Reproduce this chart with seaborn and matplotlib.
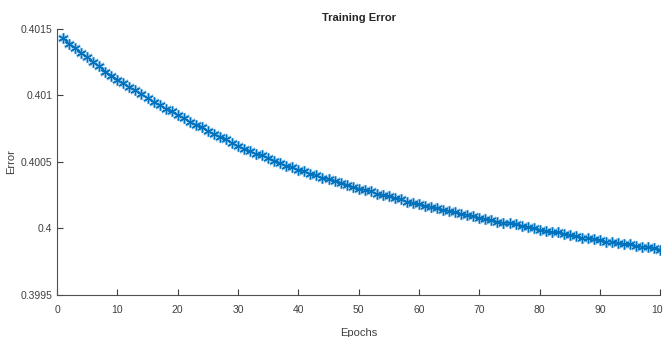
"""
Training error curve over epochs
"""
import matplotlib
matplotlib.use('Agg')
import matplotlib.pyplot as plt
import pandas as pd
import seaborn as sns


epochs = list(range(1, 101))
error = [
    0.40143, 0.40139, 0.40136, 0.40132, 0.40129, 0.40125, 0.40122, 0.40118, 0.40115, 0.40112,
    0.40109, 0.40106, 0.40104, 0.40101, 0.40098, 0.40095, 0.40093, 0.40090, 0.40088, 0.40085,
    0.40083, 0.40080, 0.40078, 0.40076, 0.40073, 0.40071, 0.40069, 0.40067, 0.40064, 0.40062,
    0.40060, 0.40058, 0.40056, 0.40055, 0.40053, 0.40051, 0.40049, 0.40047, 0.40046, 0.40044,
    0.40043, 0.40041, 0.40040, 0.40038, 0.40037, 0.40036, 0.40034, 0.40033, 0.40031, 0.40030,
    0.40029, 0.40028, 0.40026, 0.40025, 0.40024, 0.40023, 0.40022, 0.40020, 0.40019, 0.40018,
    0.40017, 0.40016, 0.40015, 0.40014, 0.40013, 0.40012, 0.40011, 0.40010, 0.40009, 0.40008,
    0.40007, 0.40006, 0.40005, 0.40004, 0.40004, 0.40003, 0.40002, 0.40001, 0.40000, 0.39999,
    0.39998, 0.39997, 0.39997, 0.39996, 0.39995, 0.39994, 0.39993, 0.39993, 0.39992, 0.39991,
    0.39990, 0.39990, 0.39989, 0.39988, 0.39988, 0.39987, 0.39986, 0.39986, 0.39985, 0.39984,
]
x_ticks = list(range(0, 101, 10))
y_ticks = [0.3995, 0.4, 0.4005, 0.401, 0.4015]
y_tick_labels = ['0.3995', '0.4', '0.4005', '0.401', '0.4015']

sns.set_style('ticks')
plt.rcParams['font.family'] = ['Liberation Sans Narrow', 'Liberation Sans', 'DejaVu Sans']

df = pd.DataFrame({'Epochs': epochs, 'Error': error})

fig = plt.figure(figsize=(6.63, 3.37), dpi=100)
ax = fig.add_axes([0.086, 0.125, 0.91, 0.789])

# soft halo under the asterisks, like the blurred matlab markers
sns.lineplot(data=df, x='Epochs', y='Error', ax=ax, color='#9ecae9',
             linewidth=0, marker=(6, 2, 0), markersize=8, markeredgewidth=2.2,
             markeredgecolor='#a9d1ef')
sns.lineplot(data=df, x='Epochs', y='Error', ax=ax, color='#0072BD',
             linewidth=1.0, marker=(6, 2, 0), markersize=7, markeredgewidth=0.9,
             markeredgecolor='#0072BD')

ax.set_xlim(0, 100)
ax.set_ylim(0.3995, 0.4015)
ax.set_xticks(x_ticks)
ax.set_yticks(y_ticks)
ax.set_yticklabels(y_tick_labels)

grey = '#404040'
ax.tick_params(direction='in', length=4, width=0.8, colors=grey, labelsize=7.5)
ax.tick_params(axis='x', pad=7)
for side in ['left', 'bottom']:
    ax.spines[side].set_color('#505050')
    ax.spines[side].set_linewidth(0.8)
sns.despine(ax=ax)

ax.set_title('Training Error', fontsize=8, fontweight='bold', color='#262626', pad=6)
ax.set_xlabel('Epochs', fontsize=8, color=grey)
ax.set_ylabel('Error', fontsize=8, color=grey)
ax.yaxis.set_label_coords(-0.068, 0.5)
ax.xaxis.set_label_coords(0.5, -0.125)

fig.savefig('out.png', dpi=100)
plt.close(fig)
